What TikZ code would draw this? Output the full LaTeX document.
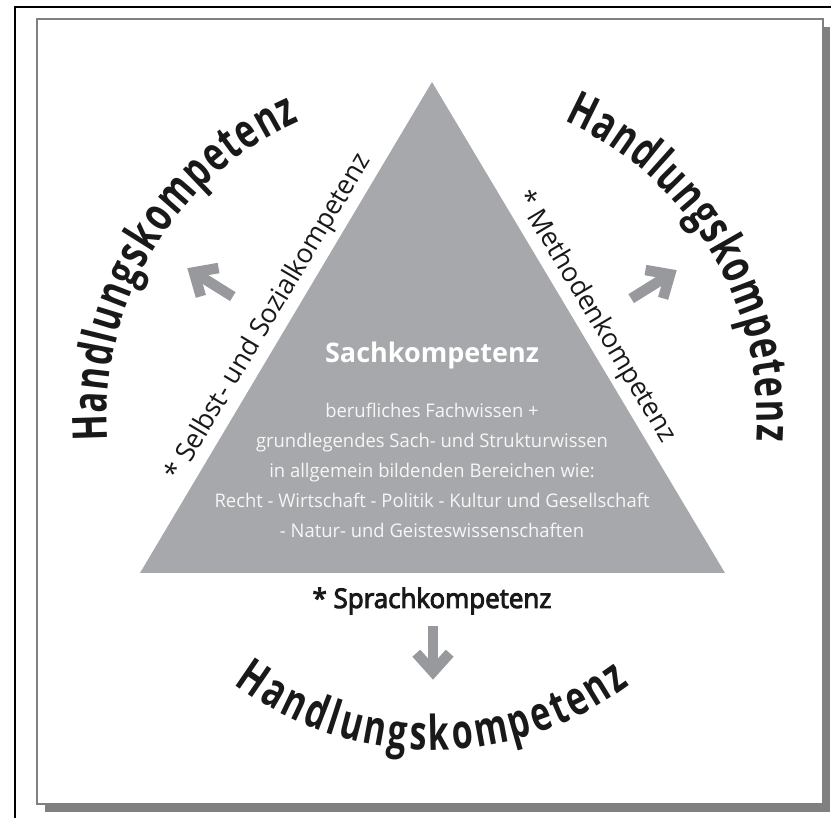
\documentclass[tikz,border=0pt]{standalone}
\usepackage{fontspec}
\setmainfont{Open Sans}
\newfontfamily\bodyf[FakeStretch=0.98]{Open Sans}
\newfontfamily\headf[FakeStretch=1.0]{Open Sans}
\newfontfamily\sidef[FakeStretch=0.98]{Open Sans}
\newfontfamily\semif[FakeStretch=0.96,FakeBold=3.5]{Open Sans}
\newfontfamily\bigf[FakeStretch=0.71]{Open Sans}
\usetikzlibrary{decorations.text}
\definecolor{trigray}{RGB}{167,168,171}
\definecolor{arrgray}{RGB}{152,153,156}
\definecolor{framegray}{RGB}{128,128,128}
\definecolor{txtwhite}{RGB}{246,246,246}
\definecolor{inkblack}{RGB}{25,25,25}
\tikzset{
  garrow/.pic={
    \draw[arrgray, line width=10.5pt, line cap=butt] (-54,0) -- (-8,0);
    \draw[arrgray, line width=10.5pt, line join=miter, line cap=butt] (-26.8,16.7) -- (-8.2,0) -- (-26.8,-16.7);
  },
  bodyline/.style={anchor=base, text=txtwhite, font=\bodyf\fontsize{18.8}{22}\selectfont, inner sep=0pt},
  sidetext/.style={sloped, above=6pt, text=inkblack, font=\sidef\fontsize{27}{30}\selectfont, inner sep=0pt},
  arctext/.style={decorate, decoration={text along path, text align=fit to path,
      text={|\color{inkblack}\bigf\bfseries\fontsize{48}{58}\selectfont|#1}}}
}
\begin{document}
\begin{tikzpicture}[x=1pt,y=1pt]
\useasboundingbox (0,0) rectangle (831,818);
% frame
\fill[framegray] (45,6) rectangle (830,791);
\filldraw[fill=white, draw=framegray, line width=2pt] (37,14) rectangle (823,799);
\draw[black, line width=1.8pt] (15,-20) -- (15,811) -- (860,811);
% triangle
\coordinate (apex) at (432,736);
\coordinate (bl) at (140,245);
\coordinate (br) at (725,245);
\fill[trigray] (apex) -- (bl) -- (br) -- cycle;
% texts inside
\node[anchor=base, text=white, font=\headf\bfseries\fontsize{27}{30}\selectfont, inner sep=0pt] (sach) at (432,455) {Sachkompetenz};
\node[bodyline] (l1) at (432,400) {berufliches Fachwissen +};
\node[bodyline] (l2) at (432,370) {grundlegendes Sach- und Strukturwissen};
\node[bodyline] (l3) at (432,340) {in allgemein bildenden Bereichen wie:};
\node[bodyline] (l4) at (432,310) {Recht - Wirtschaft - Politik - Kultur und Gesellschaft};
\node[bodyline] (l5) at (432,280) {- Natur- und Geisteswissenschaften};
% side labels
\path (bl) -- (apex) node[sidetext, pos=0.50] (selbst) {* Selbst- und Sozialkompetenz};
\path (apex) -- (br) node[sidetext, pos=0.50] (methoden) {* Methodenkompetenz};
\node[anchor=base, text=inkblack, font=\semif\fontsize{27}{30}\selectfont, inner sep=0pt] (sprach) at (432,210) {* Sprachkompetenz};
% arrows
\pic[rotate=148] at (187,550) {garrow};
\pic[rotate=32] at (677,548) {garrow};
\pic[rotate=-90] at (433,138) {garrow};
% arc texts
\path[arctext=Handlungskompetenz] (432,400) ++(184:325) arc[start angle=184, end angle=114, radius=325];
\path[arctext=Handlungskompetenz] (432,400) ++(66:325) arc[start angle=66, end angle=-4, radius=325];
\path[arctext=Handlungskompetenz] (432,400) ++(233.4:332) arc[start angle=233.4, end angle=306.6, radius=332];
\end{tikzpicture}
\end{document}
